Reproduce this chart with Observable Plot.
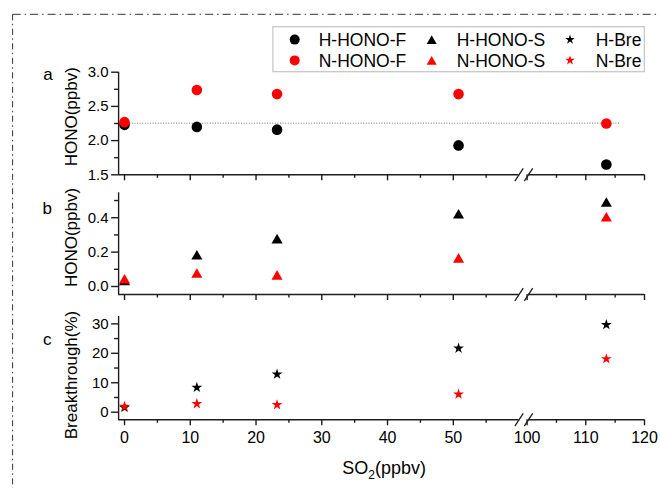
<!DOCTYPE html>
<html><head><meta charset="utf-8">
<script src="https://cdn.jsdelivr.net/npm/d3@7"></script>
<script src="https://cdn.jsdelivr.net/npm/@observablehq/plot@0.6"></script>
<style>
html,body{margin:0;padding:0;background:#fff;}
#wrap{position:relative;width:660px;height:488px;overflow:hidden;font-family:"Liberation Sans",Arial,sans-serif;}
#wrap svg{position:absolute;left:0;top:0;}
</style></head><body><div id="wrap"></div>
<script>
// ---- data ----
const so2 = [0, 11, 23.2, 50.8, 113.5];
const hHonoF = [2.23, 2.20, 2.16, 1.93, 1.65];
const nHonoF = [2.27, 2.74, 2.68, 2.68, 2.25];
const hHonoS = [0.035, 0.184, 0.278, 0.423, 0.491];
const nHonoS = [0.045, 0.078, 0.067, 0.166, 0.405];
const hBre = [1.6, 8.4, 12.9, 21.7, 29.7];
const nBre = [1.93, 2.85, 2.5, 6.1, 18.1];
const refLevel = 2.255;
const refSpan = [0, 116];
const xTicks = [0, 10, 20, 30, 40, 50, 100, 110, 120];
const xMinor = [5, 15, 25, 35, 45, 55, 105, 115];
const aTicks = [1.5, 2.0, 2.5, 3.0], aMinor = [1.75, 2.25, 2.75];
const bTicks = [0, 0.2, 0.4], bMinor = [0.1, 0.3, 0.5];
const cTicks = [0, 10, 20, 30], cMinor = [5, 15, 25];
const legendLabels = [["H-HONO-F", "H-HONO-S", "H-Bre"], ["N-HONO-F", "N-HONO-S", "N-Bre"]];
const legendColors = ["#000000", "#ff0000"];
const panelLetters = ["a", "b", "c"];
const yTitles = ["HONO(ppbv)", "HONO(ppbv)", "Breakthrough(%)"];

// ---- layout ----
const W = 660, H = 488;
const xDomain = [-0.9, 60.1, 100, 120];
const xRange = [118.1, 519.2, 526.6, 644];
const breakAt = [60, 100.24];
const axisColor = "#1e1e1e";
const font = '"Liberation Sans", Arial, sans-serif';
const slash = {draw(ctx) { ctx.moveTo(-4.2, 6.35); ctx.lineTo(4.2, -6.35); }};
const rCircle = 5.3, rTri = 4.1, rStar = 3.4;

function panel(o) {
  const yTop = o.yRange[1], yBot = o.yRange[0];
  const rows = so2.map((x, i) => ({x, a: o.black[i], b: o.red[i]}));
  const y0 = o.yDomain[0];
  return Plot.plot({
    width: W, height: H,
    marginLeft: xRange[0], marginRight: W - xRange[3],
    marginTop: yTop, marginBottom: H - yBot,
    style: {background: "transparent", color: axisColor, fontFamily: font, overflow: "visible"},
    x: {type: "linear", domain: xDomain, range: xRange},
    y: {type: "linear", domain: o.yDomain, range: o.yRange},
    marks: [
      Plot.ruleX([xDomain[0]], {stroke: axisColor, strokeWidth: 1.4}),
      Plot.ruleY([{x1: xDomain[0], x2: breakAt[0], y: y0}, {x1: breakAt[1], x2: 120, y: y0}], {x1: "x1", x2: "x2", y: "y", stroke: axisColor, strokeWidth: 1.4}),
      Plot.axisY({ticks: o.ticks, tickSize: 7, tickPadding: 3, tickFormat: o.fmt, fontSize: 15, label: null, strokeWidth: 1.4, fill: "#000"}),
      Plot.axisY({ticks: o.minor, tickSize: 4, tickFormat: () => "", label: null, strokeWidth: 1.4}),
      Plot.axisX({ticks: xTicks, tickSize: 6, tickPadding: 6, tickFormat: o.xLabels ? d3.format("d") : () => "", fontSize: 16, label: null, strokeWidth: 1.4, fill: "#000"}),
      Plot.axisX({ticks: xMinor, tickSize: 3.5, tickFormat: () => "", label: null, strokeWidth: 1.4}),
      Plot.dot(breakAt.map(x => ({x, y: y0})), {x: "x", y: "y", symbol: slash, stroke: axisColor, fill: "none", strokeWidth: 1.3, r: 5}),
      ...(o.extra || []),
      Plot.dot(rows, {x: "x", y: "a", symbol: o.symbol, r: o.r, fill: legendColors[0], dy: o.dy || 0}),
      Plot.dot(rows, {x: "x", y: "b", symbol: o.symbol, r: o.r, fill: legendColors[1], dy: o.dy || 0})
    ]
  });
}

const wrap = document.getElementById("wrap");
wrap.append(panel({
  yDomain: [1.5, 3.0], yRange: [174.3, 71.7], ticks: aTicks, minor: aMinor, fmt: d3.format(".1f"),
  black: hHonoF, red: nHonoF, symbol: "circle", r: rCircle, xLabels: false,
  extra: [Plot.ruleY([refLevel], {x1: refSpan[0], x2: refSpan[1], stroke: "#777", strokeWidth: 1, strokeDasharray: "1,1.6"})]
}));
wrap.append(panel({
  yDomain: [-0.0465, 0.545], yRange: [294, 192.3], ticks: bTicks, minor: bMinor, fmt: d3.format(".1f"),
  black: hHonoS, red: nHonoS, symbol: "triangle", r: rTri, dy: 1.5, xLabels: false
}));
wrap.append(panel({
  yDomain: [-2.58, 32.5], yRange: [419.3, 316], ticks: cTicks, minor: cMinor, fmt: d3.format("d"),
  black: hBre, red: nBre, symbol: "star", r: rStar, xLabels: true
}));

// ---- overlay: frame, legend, titles ----
const svg = d3.select(wrap).append("svg").attr("width", W).attr("height", H)
  .style("font-family", font);
svg.append("line").attr("x1", 12.6).attr("y1", 14.3).attr("x2", W).attr("y2", 14.3)
  .attr("stroke", "#333").attr("stroke-width", 1).attr("stroke-dasharray", "8,4,1.5,4");
svg.append("line").attr("x1", 12.6).attr("y1", 14.3).attr("x2", 12.6).attr("y2", H)
  .attr("stroke", "#333").attr("stroke-width", 1).attr("stroke-dasharray", "6,3.5,1.5,3.5");

// legend
const lg = svg.append("g");
lg.append("rect").attr("x", 272.9).attr("y", 26.7).attr("width", 371.4).attr("height", 45)
  .attr("fill", "#fff").attr("stroke", "#c4c4c4").attr("stroke-width", 1.2);
const symX = [294.7, 431.7, 570], txtX = [318.7, 456.7, 595.7], rowY = [39.6, 60.4];
const symDefs = [
  d3.symbol(d3.symbolCircle, Math.PI * 5 * 5),
  d3.symbol(d3.symbolTriangle, Math.PI * 3.71 * 3.71),
  d3.symbol(d3.symbolStar, Math.PI * 3 * 3)
];
const symDy = [0, 1.4, 0];
for (let r = 0; r < 2; r++) {
  for (let c = 0; c < 3; c++) {
    lg.append("path").attr("d", symDefs[c]()).attr("fill", legendColors[r])
      .attr("transform", `translate(${symX[c]},${rowY[r] + symDy[c]})`);
    lg.append("text").attr("x", txtX[c]).attr("y", rowY[r]).attr("dy", "0.36em")
      .attr("font-size", 17.5).attr("fill", "#000").text(legendLabels[r][c]);
  }
}

// panel letters
[[47.9, 80], [47.2, 213.5], [47.2, 345]].forEach(([x, y], i) => {
  svg.append("text").attr("x", x).attr("y", y).attr("text-anchor", "middle")
    .attr("font-size", 17).attr("fill", "#000").text(panelLetters[i]);
});
// y titles
[116.7, 237.5, 375].forEach((cy, i) => {
  svg.append("text").attr("transform", `translate(77,${cy}) rotate(-90)`).attr("text-anchor", "middle")
    .attr("font-size", 17).attr("fill", "#000").text(yTitles[i]);
});
// x title
const xt = svg.append("text").attr("x", 342.3).attr("y", 474).attr("font-size", 18).attr("fill", "#000");
xt.append("tspan").text("SO");
xt.append("tspan").attr("font-size", 12).attr("dy", 5).text("2");
xt.append("tspan").attr("dy", -5).text("(ppbv)");
</script></body></html>
